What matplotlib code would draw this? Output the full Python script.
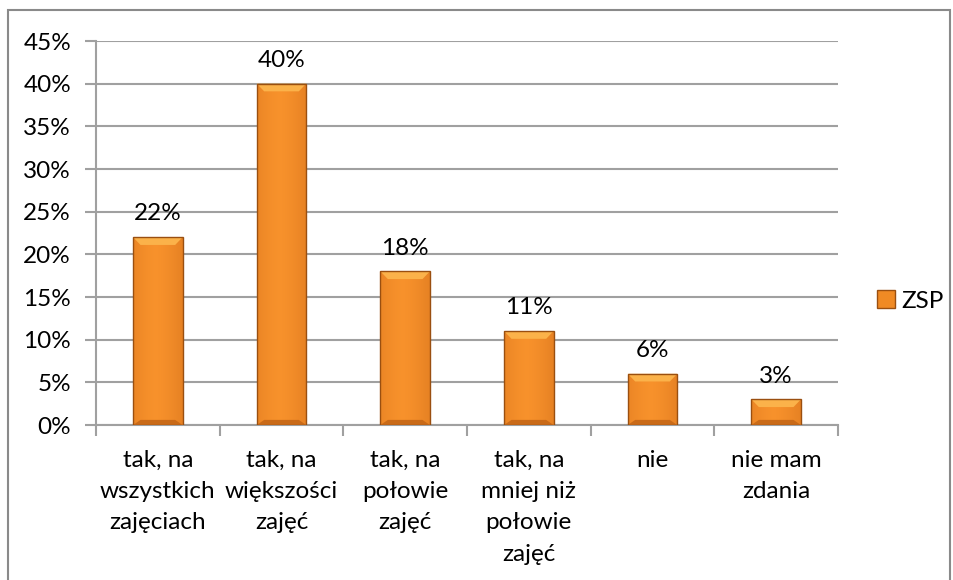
import numpy as np
import matplotlib.pyplot as plt
from matplotlib.patches import Rectangle
from matplotlib.ticker import FuncFormatter, MultipleLocator

# data
categories = ["tak, na\nwszystkich\nzajęciach", "tak, na\nwiększości\nzajęć",
              "tak, na\npołowie\nzajęć", "tak, na\nmniej niż\npołowie\nzajęć",
              "nie", "nie mam\nzdania"]
values = [22, 40, 18, 11, 6, 3]
series_name = "ZSP"

plt.rcParams['font.family'] = ['Lato', 'DejaVu Sans']
FS = 17.5

W, H = 954, 580
fig = plt.figure(figsize=(W / 100, H / 100), dpi=100)
ax = fig.add_axes([96 / W, 1 - 425 / H, (838 - 96) / W, (425 - 41) / H])

# outer chart border
fig.patches.append(Rectangle((8 / W, -0.05), (950 - 8) / W, 1 - 10 / H + 0.05,
                             transform=fig.transFigure, fill=False,
                             edgecolor='#8a8a8a', lw=1.5))

x = np.arange(len(categories))
bw = 0.4
bars = ax.bar(x, values, width=bw, color='#f08a24', edgecolor='#9a4f10',
              linewidth=1.0, zorder=3, label=series_name)

# horizontal shading for a bevelled look
grad = np.linspace(0, 1, 64)
prof = 1 - 0.55 * np.abs(grad - 0.45) ** 1.5 * 2
cols = np.zeros((1, 64, 3))
base = np.array([0.97, 0.57, 0.17])
dark = np.array([0.82, 0.43, 0.10])
for i, p in enumerate(prof):
    cols[0, i] = dark + (base - dark) * p
for b, v in zip(bars, values):
    bx, by = b.get_x(), b.get_y()
    w, h = b.get_width(), b.get_height()
    im = ax.imshow(cols, extent=(bx, bx + w, by, by + h), aspect='auto',
                   zorder=3.5, interpolation='bilinear')
    im.set_clip_path(b)
    # light top bevel, darker bottom bevel
    ax.fill([bx, bx + w, bx + w * 0.85, bx + w * 0.15],
            [by + h, by + h, by + h - 0.9, by + h - 0.9],
            color='#fbb24a', zorder=3.6, lw=0)
    ax.fill([bx, bx + w, bx + w * 0.85, bx + w * 0.15],
            [by, by, by + 0.6, by + 0.6],
            color='#c96a18', zorder=3.6, lw=0)
    ax.text(bx + w / 2, by + h + 1.5, f"{v}%",
            ha='center', va='bottom', fontsize=FS, color='black', zorder=5)
    b.set_zorder(4)
    b.set_facecolor('none')

ax.set_xlim(-0.5, len(categories) - 0.5)
ax.set_ylim(0, 45)
ax.yaxis.set_major_locator(MultipleLocator(5))
ax.yaxis.set_major_formatter(FuncFormatter(lambda v, p: f"{v:.0f}%"))
ax.grid(axis='y', color='#a0a0a0', lw=1.5, zorder=0)
ax.set_axisbelow(True)

ax.set_xticks(np.arange(-0.5, len(categories), 1))
ax.set_xticklabels([])
ax.set_xticks(x, minor=True)
ax.set_xticklabels(categories, minor=True, fontsize=FS, linespacing=1.6)
ax.tick_params(axis='x', which='minor', length=0, pad=18)
ax.tick_params(axis='x', which='major', length=8, width=1.5, color='#a0a0a0')
ax.tick_params(axis='y', length=8, width=1.5, color='#a0a0a0', labelsize=FS, pad=10)

for s in ['top', 'right']:
    ax.spines[s].set_visible(False)
for s in ['left', 'bottom']:
    ax.spines[s].set_color('#a0a0a0')
    ax.spines[s].set_linewidth(1.5)

leg = fig.legend(handles=[Rectangle((0, 0), 1, 1, facecolor='#f08a24',
                                    edgecolor='#9a4f10')],
                 labels=[series_name], loc='center left',
                 bbox_to_anchor=(877 / W, 1 - 301 / H), frameon=False,
                 fontsize=FS, handlelength=0.75, handleheight=0.75,
                 handletextpad=0.25, borderpad=0, borderaxespad=0)

fig.savefig("out.png", dpi=100)
